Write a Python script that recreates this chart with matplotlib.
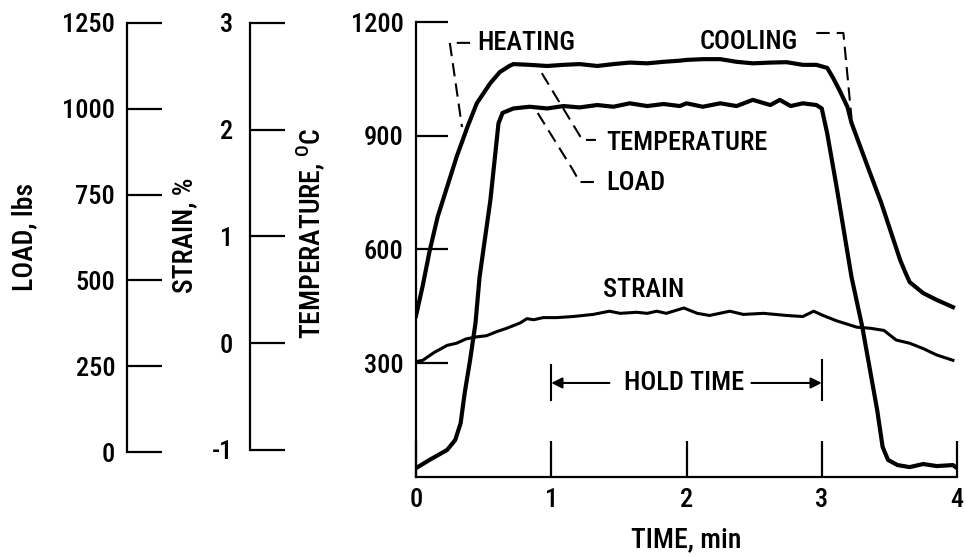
import matplotlib
matplotlib.use('Agg')
import matplotlib.pyplot as plt

FONT = ['Roboto Condensed', 'DejaVu Sans']
plt.rcParams['font.family'] = FONT
plt.rcParams['font.weight'] = 'medium'
plt.rcParams['mathtext.fontset'] = 'custom'
plt.rcParams['mathtext.rm'] = 'Roboto Condensed'

# ---------------- data ----------------
time_ticks = [0, 1, 2, 3, 4]
temp_ticks = [300, 600, 900, 1200]
load_ticks = [0, 250, 500, 750, 1000, 1250]
strain_ticks = [-1, 0, 1, 2, 3]

temp_time = [0.00, 0.05, 0.10, 0.16, 0.23, 0.30, 0.38, 0.45, 0.55, 0.62, 0.69, 0.72,
             0.84, 0.97, 1.09, 1.21, 1.34, 1.46, 1.58, 1.71, 1.83, 1.95, 2.00, 2.12,
             2.25, 2.37, 2.49, 2.62, 2.74, 2.86, 2.96, 3.04, 3.08, 3.13, 3.19, 3.22,
             3.34, 3.44, 3.58, 3.62, 3.65, 3.75, 3.85, 3.97]
temp_vals = [425, 505, 595, 686, 765, 844, 923, 986, 1039, 1068, 1084, 1089,
             1087, 1084, 1087, 1089, 1084, 1089, 1093, 1091, 1095, 1098, 1100, 1102,
             1102, 1095, 1091, 1093, 1094, 1087, 1087, 1079, 1055, 1021, 976, 934,
             818, 723, 572, 538, 514, 485, 467, 448]

load_time = [0.00, 0.10, 0.23, 0.29, 0.33, 0.36, 0.40, 0.44, 0.47, 0.55, 0.61, 0.64,
             0.72, 0.84, 0.97, 1.09, 1.21, 1.34, 1.46, 1.58, 1.71, 1.83, 1.95, 2.00,
             2.12, 2.25, 2.37, 2.49, 2.62, 2.69, 2.77, 2.86, 2.96, 3.00, 3.04, 3.11,
             3.22, 3.30, 3.41, 3.45, 3.49, 3.56, 3.65, 3.75, 3.85, 3.97, 4.00]
load_vals = [-47, -23, 6, 35, 84, 172, 268, 376, 510, 734, 958, 988,
             1001, 1006, 1001, 1008, 1004, 1011, 1006, 1016, 1008, 1014, 1008, 1016,
             1006, 1016, 1008, 1026, 1011, 1026, 1008, 1016, 1011, 1001, 929, 772,
             510, 364, 122, 15, -23, -38, -44, -35, -41, -38, -47]

strain_time = [0.01, 0.05, 0.13, 0.23, 0.30, 0.37, 0.45, 0.52, 0.60, 0.67, 0.77, 0.82,
               0.87, 0.94, 1.04, 1.16, 1.31, 1.43, 1.51, 1.63, 1.71, 1.78, 1.85, 1.98,
               2.08, 2.17, 2.32, 2.42, 2.57, 2.74, 2.86, 2.94, 3.01, 3.11, 3.26, 3.36,
               3.46, 3.55, 3.65, 3.75, 3.85, 3.97]
strain_vals = [-0.17, -0.16, -0.09, -0.02, 0.00, 0.04, 0.06, 0.07, 0.11, 0.14, 0.19, 0.23,
               0.22, 0.24, 0.24, 0.25, 0.27, 0.30, 0.28, 0.29, 0.28, 0.30, 0.28, 0.33,
               0.28, 0.26, 0.30, 0.27, 0.28, 0.26, 0.25, 0.30, 0.26, 0.21, 0.15, 0.14,
               0.12, 0.03, 0.00, -0.05, -0.11, -0.16]

# ---------------- figure ----------------
W, H = 967, 557
fig = plt.figure(figsize=(W / 100, H / 100), dpi=100)
fig.patch.set_facecolor('white')

bottom = (H - 477) / H
height = (477 - 22) / H
FS = 19
LW_AX = 1.6

main = fig.add_axes([416 / W, bottom, (957 - 416) / W, height])
main.set_xlim(0, 4)
main.set_ylim(0, 1200)
for s in ['top', 'right']:
    main.spines[s].set_visible(False)
for s in ['left', 'bottom']:
    main.spines[s].set_linewidth(LW_AX)
main.set_xticks(time_ticks)
main.set_xticklabels([str(v) for v in time_ticks])
main.set_yticks(temp_ticks)
main.set_yticklabels([str(v) for v in temp_ticks])
main.tick_params(axis='x', direction='in', length=26, width=LW_AX, labelsize=FS, pad=8)
main.tick_params(axis='y', direction='in', length=23, width=LW_AX, labelsize=FS, pad=9)
main.patch.set_alpha(0)

LOAD_LIM = (-72.8, 1252.9)
STRAIN_LIM = (-1.253, 3.009)

def side_axis(xpix, lim, ticks, pad):
    a = fig.add_axes([xpix / W, bottom, 0.04, height])
    a.set_ylim(*lim)
    for s in ['top', 'right', 'bottom']:
        a.spines[s].set_visible(False)
    a.spines['left'].set_linewidth(LW_AX)
    a.spines['left'].set_bounds(ticks[0], ticks[-1])
    a.set_xticks([])
    a.set_yticks(ticks)
    a.set_yticklabels([str(v) for v in ticks])
    a.tick_params(axis='y', direction='in', length=25, width=LW_AX, labelsize=FS, pad=pad)
    a.patch.set_alpha(0)
    return a

side_axis(127, LOAD_LIM, load_ticks, 8.5)
side_axis(250, STRAIN_LIM, strain_ticks, 12)

# curves
main.plot(temp_time, temp_vals, color='black', lw=3.0, solid_joinstyle='round')

ax_load = main.twinx()
ax_load.set_ylim(*LOAD_LIM)
ax_load.set_axis_off()
ax_load.plot(load_time, load_vals, color='black', lw=3.0, solid_joinstyle='round')

ax_strain = main.twinx()
ax_strain.set_ylim(*STRAIN_LIM)
ax_strain.set_axis_off()
ax_strain.plot(strain_time, strain_vals, color='black', lw=2.2, solid_joinstyle='round')

# annotations
DASH = (0, (6.4, 3.4))
main.text(0.45, 1145, 'HEATING', fontsize=FS, ha='left', va='center')
main.plot([0.40, 0.25, 0.34], [1145, 1145, 923], color='black', lw=1.5, ls=DASH)

main.text(2.10, 1147, 'COOLING', fontsize=FS, ha='left', va='center')
main.plot([2.96, 3.16, 3.22], [1171, 1171, 947], color='black', lw=1.5, ls=DASH)

main.text(1.41, 881, 'TEMPERATURE', fontsize=FS, ha='left', va='center')
main.plot([0.93, 1.23, 1.33], [1065, 889, 889], color='black', lw=1.5, ls=DASH)

main.text(1.41, 775, 'LOAD', fontsize=FS, ha='left', va='center')
main.plot([0.90, 1.16, 1.21, 1.32], [960, 810, 778, 778], color='black', lw=1.5, ls=DASH)

main.text(1.38, 493, 'STRAIN', fontsize=FS, ha='left', va='center')

main.text(1.98, 248, 'HOLD TIME', fontsize=FS, ha='center', va='center')
main.plot([1.0, 1.0], [203, 295], color='black', lw=1.5)
main.plot([3.0, 3.0], [203, 309], color='black', lw=1.5)
arrow = dict(arrowstyle='-|>', lw=1.5, color='black', mutation_scale=16, shrinkA=0, shrinkB=0)
main.annotate('', xy=(1.0, 248), xytext=(1.43, 248), arrowprops=arrow)
main.annotate('', xy=(3.0, 248), xytext=(2.48, 248), arrowprops=arrow)

# axis labels
fig.text(686 / W, 1 - 540 / H, 'TIME, min', fontsize=20, ha='center', va='center')
fig.text(25 / W, 1 - 237 / H, 'LOAD, lbs', fontsize=20, ha='center', va='center', rotation=90)
fig.text(185 / W, 1 - 235 / H, 'STRAIN, %', fontsize=20, ha='center', va='center', rotation=90)
fig.text(310 / W, 1 - 233 / H, 'TEMPERATURE, $^{\\mathrm{O}}$C', fontsize=20,
         ha='center', va='center', rotation=90)

fig.savefig('out.png', dpi=100, facecolor='white')
